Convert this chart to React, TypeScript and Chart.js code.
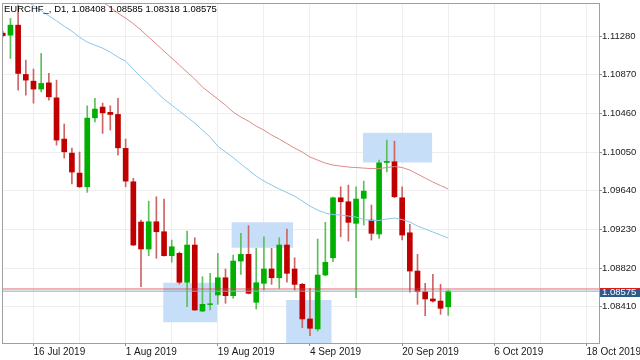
import React, { useEffect, useRef } from "react";
import { Chart, registerables } from "chart.js";

Chart.register(...registerables);

const chartTitle = "EURCHF_, D1, 1.08408 1.08585 1.08318 1.08575";

// bar index 0 = 10 Jul 2019 ... bar 58 = 30 Sep 2019
const xTickIndex = [4, 16, 28, 40, 52, 64, 76];
const xTickLabels = ["16 Jul 2019", "1 Aug 2019", "19 Aug 2019", "4 Sep 2019", "20 Sep 2019", "6 Oct 2019", "18 Oct 2019"];
const xGridIndex = [4, 10, 16, 22, 28, 34, 40, 46, 52, 58, 64, 70, 76];
const yTicks = [1.0841, 1.0882, 1.0923, 1.0964, 1.1005, 1.1046, 1.1087, 1.1128];
const yMin = 1.08025;
const yMax = 1.11631;
const xMin = -0.1;
const xMax = 77.63;

const opens = [1.11311, 1.1129, 1.11396, 1.10873, 1.10802, 1.10718, 1.10784, 1.10625, 1.10188, 1.10039, 1.09827, 1.09682, 1.10413, 1.10527, 1.10471, 1.10449, 1.10089, 1.09735, 1.09308, 1.09022, 1.09311, 1.09205, 1.08951, 1.08976, 1.08669, 1.09064, 1.08364, 1.08433, 1.08534, 1.08717, 1.08527, 1.08894, 1.08965, 1.08457, 1.08658, 1.0881, 1.08717, 1.09064, 1.0881, 1.08647, 1.0828, 1.08174, 1.08746, 1.08929, 1.09565, 1.09523, 1.09294, 1.09559, 1.09329, 1.09181, 1.0994, 1.09947, 1.09565, 1.09194, 1.08788, 1.08569, 1.08492, 1.0847, 1.08408];
const highs = [1.11332, 1.11467, 1.11608, 1.11025, 1.1093, 1.11096, 1.10884, 1.10813, 1.10347, 1.10092, 1.1005, 1.10541, 1.10619, 1.10569, 1.10541, 1.10619, 1.10188, 1.09771, 1.09329, 1.0953, 1.09576, 1.09552, 1.09117, 1.0899, 1.09212, 1.09141, 1.08728, 1.08764, 1.08976, 1.0881, 1.08958, 1.09188, 1.09269, 1.09029, 1.09152, 1.09029, 1.09141, 1.09234, 1.08929, 1.08658, 1.08605, 1.09128, 1.09305, 1.09572, 1.09682, 1.097, 1.09682, 1.09742, 1.09488, 1.09965, 1.10177, 1.10166, 1.09682, 1.09283, 1.08965, 1.08658, 1.08753, 1.08647, 1.08585];
const lows = [1.11269, 1.11043, 1.10707, 1.10654, 1.10569, 1.10689, 1.10601, 1.10124, 1.09986, 1.09711, 1.09675, 1.09623, 1.10371, 1.10248, 1.10283, 1.10018, 1.09682, 1.09058, 1.08622, 1.08951, 1.08923, 1.08945, 1.08881, 1.08651, 1.0841, 1.0837, 1.08357, 1.08375, 1.08435, 1.08446, 1.08499, 1.08753, 1.08545, 1.08386, 1.08587, 1.08647, 1.08605, 1.08669, 1.08587, 1.08187, 1.08103, 1.08152, 1.0874, 1.08887, 1.09152, 1.09106, 1.08505, 1.09276, 1.09117, 1.09135, 1.09841, 1.09565, 1.09117, 1.08563, 1.08435, 1.08315, 1.08457, 1.08329, 1.08318];
const closes = [1.11285, 1.11396, 1.10884, 1.10813, 1.10718, 1.10778, 1.10636, 1.10177, 1.10053, 1.09838, 1.09682, 1.1041, 1.10506, 1.10466, 1.10449, 1.10095, 1.09742, 1.09064, 1.09022, 1.09311, 1.09205, 1.08951, 1.09046, 1.08669, 1.09064, 1.08375, 1.08435, 1.08441, 1.08717, 1.08527, 1.08894, 1.08965, 1.08552, 1.08664, 1.0881, 1.08717, 1.09064, 1.08764, 1.08647, 1.0828, 1.08181, 1.08746, 1.08881, 1.09565, 1.09523, 1.09305, 1.09552, 1.09636, 1.09188, 1.09936, 1.09951, 1.09576, 1.0917, 1.08788, 1.08569, 1.08492, 1.0847, 1.08393, 1.08575];

const maFast = [1.1182, 1.11767, 1.11714, 1.11656, 1.11603, 1.1155, 1.11495, 1.11441, 1.11385, 1.11332, 1.11269, 1.11216, 1.11184, 1.11152, 1.1111, 1.11057, 1.11014, 1.1093, 1.10845, 1.10771, 1.10686, 1.10612, 1.10548, 1.10484, 1.10421, 1.10357, 1.10283, 1.10209, 1.10113, 1.1005, 1.09992, 1.09923, 1.09859, 1.09795, 1.09742, 1.097, 1.09658, 1.09621, 1.09583, 1.0953, 1.09477, 1.09435, 1.09403, 1.09387, 1.09382, 1.09371, 1.09361, 1.09334, 1.09324, 1.09324, 1.0934, 1.0935, 1.09334, 1.09308, 1.09265, 1.09234, 1.09202, 1.0917, 1.09138];
const maSlow = [null, null, null, null, null, null, null, null, null, 1.11852, 1.11799, 1.11746, 1.11693, 1.1164, 1.11587, 1.11523, 1.1147, 1.11412, 1.11343, 1.11269, 1.11195, 1.1112, 1.11046, 1.10972, 1.10898, 1.10824, 1.10739, 1.10675, 1.10612, 1.10548, 1.10474, 1.10421, 1.10378, 1.10325, 1.10283, 1.1023, 1.10188, 1.1014, 1.10092, 1.1005, 1.09997, 1.09965, 1.09933, 1.09912, 1.09901, 1.09891, 1.09886, 1.0988, 1.09875, 1.09875, 1.09886, 1.09896, 1.09886, 1.09859, 1.09817, 1.09774, 1.09732, 1.09695, 1.09658];

const bidPrice = 1.08575;
const askPrice = 1.08598;

const rectStart = [20.9, 29.8, 36.9, 46.9];
const rectEnd = [27.9, 37.8, 42.8, 55.9];
const rectTop = [1.08664, 1.09305, 1.08481, 1.10254];
const rectBottom = [1.08245, 1.09035, 1.0795, 1.0994];

const FONT = '"Liberation Sans", Arial, sans-serif';
const UP = "#00b000";
const DOWN = "#c00000";
const UP_WICK = "#5cbf5c";
const DOWN_WICK = "#cf6464";

export default function App() {
  const ref = useRef<HTMLCanvasElement | null>(null);

  useEffect(() => {
    if (!ref.current) return;
    const idx = opens.map((_, i) => i);
    const isUp = idx.map((i) => closes[i] >= opens[i]);

    const rectPlugin = {
      id: "rects",
      beforeDatasetsDraw(chart: any) {
        const { ctx, chartArea, scales } = chart;
        ctx.save();
        ctx.beginPath();
        ctx.rect(chartArea.left, chartArea.top, chartArea.right - chartArea.left, chartArea.bottom - chartArea.top);
        ctx.clip();
        ctx.fillStyle = "#c7def8";
        for (let k = 0; k < rectStart.length; k++) {
          const x0 = scales.x.getPixelForValue(rectStart[k]);
          const x1 = scales.x.getPixelForValue(rectEnd[k]);
          const y0 = scales.y.getPixelForValue(rectTop[k]);
          const y1 = scales.y.getPixelForValue(rectBottom[k]);
          ctx.fillRect(x0, y0, x1 - x0, y1 - y0);
        }
        ctx.restore();
      },
    };

    const overlayPlugin = {
      id: "overlay",
      afterDraw(chart: any) {
        const { ctx, chartArea, scales, width } = chart;
        ctx.save();
        // frame
        ctx.strokeStyle = "#a0a0a0";
        ctx.lineWidth = 1;
        ctx.strokeRect(chartArea.left + 0.5, chartArea.top + 0.5, chartArea.right - chartArea.left, chartArea.bottom - chartArea.top);
        // title
        ctx.fillStyle = "#000";
        ctx.font = "9.5px " + FONT;
        ctx.textBaseline = "middle";
        ctx.textAlign = "left";
        ctx.fillText(chartTitle, 4, 9.5);
        // bid label
        const yb = scales.y.getPixelForValue(bidPrice);
        const ya = scales.y.getPixelForValue(askPrice);
        ctx.fillStyle = "#2b5b8c";
        ctx.fillRect(chartArea.right + 1, Math.round(yb) - 3, width - chartArea.right - 1, 9);
        ctx.fillStyle = "#e01818";
        ctx.fillRect(chartArea.right + 1, Math.round(ya) - 1, width - chartArea.right - 1, 2);
        ctx.fillStyle = "#ffffff";
        ctx.font = "9.5px " + FONT;
        ctx.fillText(bidPrice.toFixed(5), chartArea.right + 3, Math.round(yb) + 1.5);
        ctx.restore();
      },
    };

    const chart = new Chart(ref.current, {
      type: "bar",
      data: {
        datasets: [
          {
            type: "line",
            label: "maFast",
            data: idx.map((i) => ({ x: i, y: maFast[i] })),
            borderColor: "#8cc6e8",
            borderWidth: 1,
            pointRadius: 0,
            tension: 0,
            order: 0,
          } as any,
          {
            type: "line",
            label: "maSlow",
            data: idx.map((i) => ({ x: i, y: maSlow[i] })),
            borderColor: "#dc8a84",
            borderWidth: 1,
            pointRadius: 0,
            tension: 0,
            spanGaps: false,
            order: 0,
          } as any,
          {
            type: "line",
            label: "ask",
            data: [
              { x: xMin, y: askPrice },
              { x: xMax, y: askPrice },
            ],
            borderColor: "rgba(220,60,60,0.75)",
            borderWidth: 1,
            pointRadius: 0,
            order: -1,
          } as any,
          {
            type: "line",
            label: "bid",
            data: [
              { x: xMin, y: bidPrice },
              { x: xMax, y: bidPrice },
            ],
            borderColor: "#8ea9c6",
            borderWidth: 1,
            pointRadius: 0,
            order: -1,
          } as any,
          {
            type: "bar",
            label: "bodies",
            data: idx.map((i) => ({ x: i, y: [opens[i], closes[i]] })),
            backgroundColor: idx.map((i) => (isUp[i] ? UP : DOWN)),
            borderWidth: 0,
            barThickness: 5,
            grouped: false,
            order: 1,
          } as any,
          {
            type: "bar",
            label: "wicks",
            data: idx.map((i) => ({ x: i, y: [lows[i], highs[i]] })),
            backgroundColor: idx.map((i) => (isUp[i] ? UP_WICK : DOWN_WICK)),
            borderWidth: 0,
            barThickness: 1,
            grouped: false,
            order: 2,
          } as any,
        ],
      },
      options: {
        animation: false,
        responsive: false,
        events: [],
        layout: { padding: { left: 2, top: 3, right: 0, bottom: 0 } },
        plugins: { legend: { display: false }, tooltip: { enabled: false }, title: { display: false } },
        scales: {
          x: {
            type: "linear",
            min: xMin,
            max: xMax,
            offset: false,
            afterBuildTicks: (s: any) => {
              s.ticks = xGridIndex.map((v) => ({ value: v }));
            },
            afterFit: (s: any) => {
              s.height = 17;
              s.paddingLeft = 0;
              s.paddingRight = 0;
            },
            ticks: {
              autoSkip: false,
              maxRotation: 0,
              minRotation: 0,
              align: "start",
              padding: 0,
              color: "#1a1a1a",
              font: { family: FONT, size: 10 },
              callback: (v: any) => {
                const k = xTickIndex.indexOf(Number(v));
                return k >= 0 ? xTickLabels[k] : "";
              },
            },
            grid: {
              offset: false,
              color: "#eeeeee",
              tickLength: 3,
              tickColor: (c: any) => (c.tick && xTickIndex.includes(c.tick.value) ? "#909090" : "rgba(0,0,0,0)"),
            },
            border: { display: false },
          } as any,
          y: {
            type: "linear",
            position: "right",
            min: yMin,
            max: yMax,
            afterBuildTicks: (s: any) => {
              s.ticks = yTicks.map((v) => ({ value: v }));
            },
            afterFit: (s: any) => {
              s.width = 41;
              s.paddingTop = 0;
              s.paddingBottom = 0;
            },
            ticks: {
              padding: 0,
              color: "#1a1a1a",
              font: { family: FONT, size: 9.5 },
              callback: (v: any) => Number(v).toFixed(5),
            },
            grid: { color: "#eeeeee", tickLength: 3, tickColor: "#909090" },
            border: { display: false },
          } as any,
        },
      },
      plugins: [rectPlugin, overlayPlugin],
    } as any);

    return () => chart.destroy();
  }, []);

  return (
    <div style={{ position: "fixed", left: 0, top: 0, width: 640, height: 360, background: "#ffffff" }}>
      <canvas ref={ref} width={640} height={360} style={{ display: "block" }} />
    </div>
  );
}
